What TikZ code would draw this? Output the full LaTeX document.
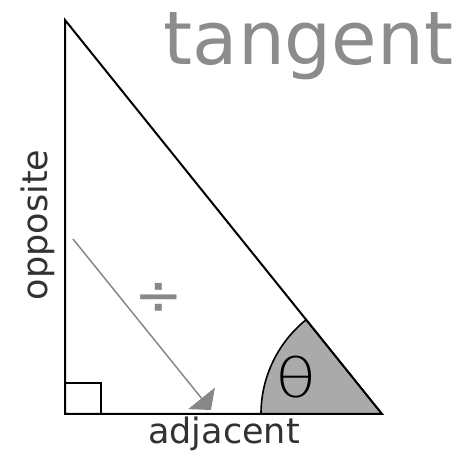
\documentclass[tikz,border=0pt]{standalone}
\usepackage{fontspec}
\setmainfont{DejaVu Sans}
\newfontfamily\thinfont{DejaVu Sans ExtraLight}
\usetikzlibrary{arrows.meta}
\definecolor{sectorgray}{RGB}{170,170,170}
\definecolor{lightgray}{RGB}{140,140,140}
\definecolor{arrowgray}{RGB}{136,136,136}
\definecolor{labeldark}{RGB}{50,50,50}
\begin{document}
\begin{tikzpicture}[x=1pt,y=1pt,
  side/.style={line width=2pt,black},
  lbl/.style={inner sep=0pt,text=labeldark,font=\fontsize{35}{35}\selectfont},
]
\useasboundingbox (0,0) rectangle (467,456);
\fill[white] (0,0) rectangle (467,456);
\coordinate (A) at (65,436);
\coordinate (B) at (65,42);
\coordinate (C) at (382,42);
\coordinate (sqa) at (101,73);
\coordinate (arrS) at (73,217);
\coordinate (arrE) at (211,46);
% angle sector
\filldraw[fill=sectorgray,draw=black,line width=1.6pt] (C) -- ++(180:121) arc[start angle=180,end angle=128.8,radius=121] -- cycle;
% triangle
\draw[side,line join=miter] (A) -- (B) -- (C) -- cycle;
% right angle mark
\draw[side] (B) rectangle (sqa);
% arrow
\draw[arrowgray,line width=1.5pt,-{Triangle[width=34pt,length=15pt]}] (arrS) -- (arrE);
% labels
\node[inner sep=0pt,anchor=base,text=lightgray,font=\fontsize{74}{74}\selectfont] (title) at (308.5,391) {tangent};
\node[lbl,anchor=base,rotate=90] (opp) at (47,231) {opposite};
\node[lbl,anchor=base] (adj) at (224,12) {adjacent};
\node[inner sep=0pt,text=arrowgray,font=\fontsize{58}{58}\selectfont] (div) at (159,157) {÷};
\node[inner sep=0pt,xscale=1.25,font=\thinfont\fontsize{54}{54}\selectfont] (theta) at (296,79) {θ};
\end{tikzpicture}
\end{document}
